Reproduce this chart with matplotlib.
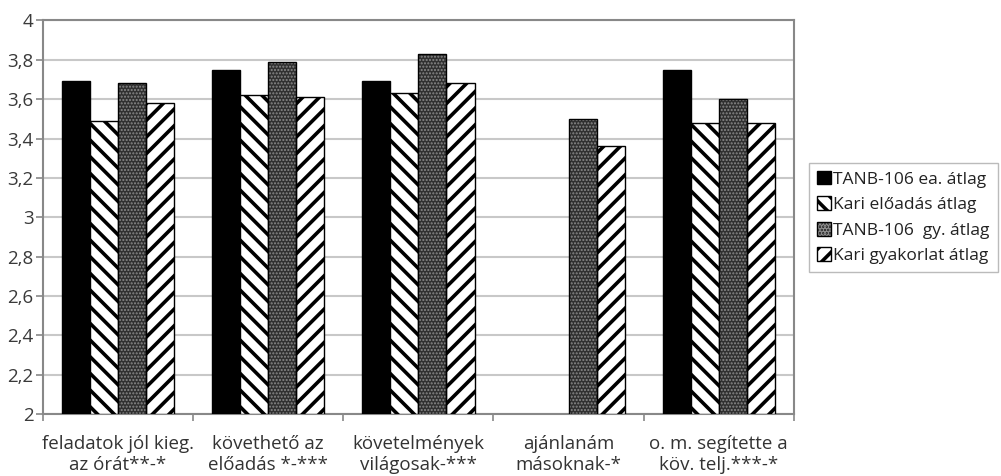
import matplotlib
matplotlib.use("Agg")
import matplotlib.pyplot as plt
import numpy as np

categories = ["feladatok jól kieg.\naz órát**-*", "követhető az\nelőadás *-***",
              "követelmények\nvilágosak-***", "ajánlanám\nmásoknak-*",
              "o. m. segítette a\nköv. telj.***-*"]
series_names = ["TANB-106 ea. átlag", "Kari előadás átlag",
                "TANB-106  gy. átlag", "Kari gyakorlat átlag"]
tanb_ea = [3.69, 3.75, 3.69, np.nan, 3.75]
kari_ea = [3.49, 3.62, 3.63, np.nan, 3.48]
tanb_gy = [3.68, 3.79, 3.83, 3.50, 3.60]
kari_gy = [3.58, 3.61, 3.68, 3.36, 3.48]
yticks = [2, 2.2, 2.4, 2.6, 2.8, 3, 3.2, 3.4, 3.6, 3.8, 4]
ytick_labels = ["2", "2,2", "2,4", "2,6", "2,8", "3", "3,2", "3,4", "3,6", "3,8", "4"]

plt.rcParams['font.family'] = ['Open Sans', 'DejaVu Sans']
plt.rcParams['hatch.linewidth'] = 2.6

fig = plt.figure(figsize=(10.01, 4.76), dpi=100)
ax = fig.add_axes([0.043, 0.130, 0.750, 0.827])

x = np.arange(len(categories))
w = 0.187
data = [tanb_ea, kari_ea, tanb_gy, kari_gy]
offsets = [-1.5, -0.5, 0.5, 1.5]
handles = []
for i, (vals, off) in enumerate(zip(data, offsets)):
    vals = np.array(vals, dtype=float)
    pos = x + off * w
    if i == 0:
        b = ax.bar(pos, vals - 2, w, bottom=2, color='black', edgecolor='black', lw=1, zorder=3)
        handles.append(b)
    elif i == 1:
        b = ax.bar(pos, vals - 2, w, bottom=2, color='white', edgecolor='black', hatch='\\\\', lw=1, zorder=3)
        handles.append(b)
    elif i == 2:
        plt.rcParams['hatch.linewidth'] = 1.0
        b0 = ax.bar(pos, vals - 2, w, bottom=2, color='#303030', edgecolor='#8a8a8a', hatch='.....', lw=0, zorder=3)
        b = ax.bar(pos, vals - 2, w, bottom=2, fill=False, edgecolor='black', lw=1, zorder=4)
        handles.append((b0, b))
        plt.rcParams['hatch.linewidth'] = 2.6
    else:
        b = ax.bar(pos, vals - 2, w, bottom=2, color='white', edgecolor='black', hatch='//', lw=1, zorder=3)
        handles.append(b)

ax.set_ylim(2, 4)
ax.set_xlim(-0.5, len(categories) - 0.5)
ax.set_yticks(yticks)
ax.set_yticklabels(ytick_labels, fontsize=13.5, color='#3a3a3a')
ax.yaxis.grid(True, color='#c8c8c8', lw=1.5, zorder=0)
ax.set_axisbelow(True)
ax.set_xticks(x)
ax.set_xticklabels(categories, fontsize=13.5, color='#333333', linespacing=1.22)
ax.tick_params(axis='x', length=0, pad=15)
ax.set_xticks(np.arange(len(categories) + 1) - 0.5, minor=True)
ax.tick_params(axis='x', which='minor', length=5, color='#888888', width=1.2)
ax.tick_params(axis='y', length=5, color='#888888', width=1.2, pad=2)
for s in ax.spines.values():
    s.set_color('#888888')
    s.set_linewidth(1.5)

leg = fig.legend(handles, series_names, loc='upper left', bbox_to_anchor=(0.808, 0.658),
                 prop={'family': 'Open Sans', 'size': 12.5}, frameon=True, fancybox=False,
                 edgecolor='#aaaaaa', handlelength=0.85, handleheight=0.85, handletextpad=0.12,
                 borderpad=0.45, labelspacing=0.5, borderaxespad=0)
for t in leg.get_texts():
    t.set_color('#222222')

fig.savefig('out.png', dpi=100)
